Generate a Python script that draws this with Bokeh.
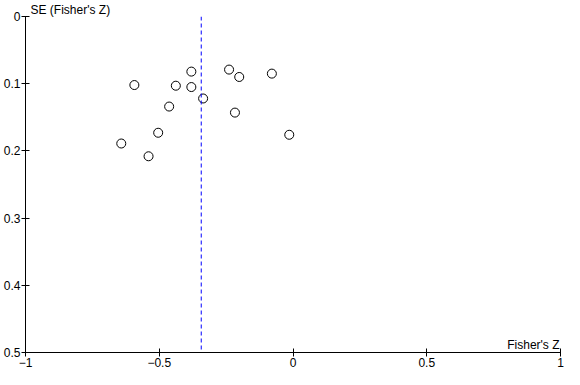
from bokeh.plotting import figure
from bokeh.models import Range1d, Label, Span, FixedTicker
from bokeh.embed import file_html
from bokeh.resources import INLINE

# Study-level data
fisher_z = [-0.593, -0.438, -0.380, -0.380, -0.336, -0.239, -0.201, -0.079,
            -0.463, -0.217, -0.504, -0.642, -0.014, -0.540]
se_z = [0.102, 0.103, 0.082, 0.105, 0.122, 0.079, 0.090, 0.085,
        0.134, 0.143, 0.173, 0.189, 0.176, 0.208]
pooled_z = -0.343

x_ticks = [-1, -0.5, 0, 0.5, 1]
x_tick_labels = ["\u22121", "\u22120.5", "0", "0.5", "1"]
y_ticks = [0, 0.1, 0.2, 0.3, 0.4, 0.5]
y_tick_labels = ["0", "0.1", "0.2", "0.3", "0.4", "0.5"]

FONT = "Liberation Sans"

p = figure(width=564, height=369, output_backend="svg", toolbar_location=None,
           x_range=Range1d(-1, 1), y_range=Range1d(0.5, 0),
           min_border_left=20, min_border_right=4, min_border_top=10,
           min_border_bottom=0)
p.outline_line_color = None
p.xgrid.visible = False
p.ygrid.visible = False
p.background_fill_color = "white"
p.border_fill_color = "white"

p.title.text = "SE (Fisher's Z)"
p.title.text_font = FONT
p.title.text_font_size = "12px"
p.title.text_font_style = "normal"
p.title.text_color = "black"
p.title.align = "left"
p.title.offset = 5
p.title.standoff = 0

for ax, ticks, labels in ((p.xaxis[0], x_ticks, x_tick_labels),
                          (p.yaxis[0], y_ticks, y_tick_labels)):
    ax.ticker = FixedTicker(ticks=ticks)
    ax.major_label_overrides = {t: l for t, l in zip(ticks, labels)}
    ax.minor_tick_line_color = None
    ax.major_tick_in = 4
    ax.major_tick_out = 4
    ax.axis_line_color = "black"
    ax.major_tick_line_color = "black"
    ax.major_label_text_font = FONT
    ax.major_label_text_font_size = "12px"
    ax.major_label_text_color = "black"
    ax.major_label_standoff = 1
    ax.axis_label_standoff = 0

p.add_layout(Span(location=pooled_z, dimension="height", line_color="#0000ff",
                  line_width=1, line_dash="4 3"))

p.scatter(fisher_z, se_z, size=9, marker="circle", fill_color=None,
          line_color="black", line_width=1)

p.add_layout(Label(x=1, y=0.5, text="Fisher's Z", text_align="right",
                   text_baseline="bottom", x_offset=-1, y_offset=1,
                   text_font=FONT, text_font_size="12px", text_color="black"))

open("out.html", "w").write(file_html(p, INLINE))
